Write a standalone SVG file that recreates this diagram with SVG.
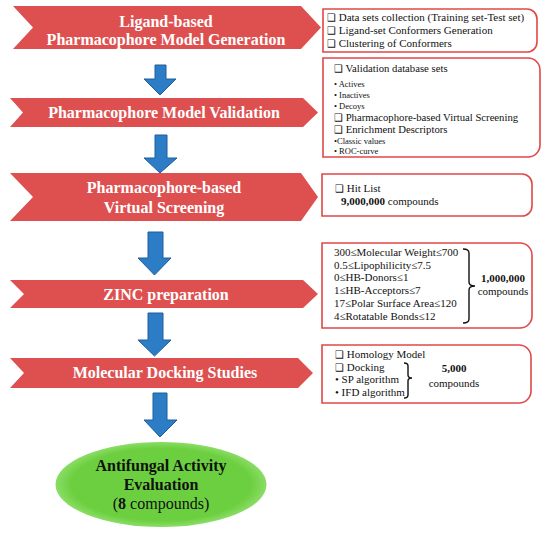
<svg xmlns="http://www.w3.org/2000/svg" width="550" height="534" viewBox="0 0 550 534">
<style>
.chev{fill:#DE5050;}
.ct{font-family:"Liberation Serif","Times New Roman",serif;font-weight:bold;font-size:16px;fill:#fff;text-anchor:middle;}
.box{fill:#fff;stroke:#E04848;stroke-width:1.6;}
.bt{font-family:"Liberation Serif","Times New Roman","DejaVu Sans",serif;font-size:11px;fill:#111;}
.b2{font-size:10.7px;}
.sm{font-size:8.5px;}
.cb{font-family:"DejaVu Sans",sans-serif;font-size:10px;}
.arr{fill:#2C7CC6;stroke:#1E5E9C;stroke-width:1;}
.br{fill:none;stroke:#111;stroke-width:1.4;}
.et{font-family:"Liberation Serif","Times New Roman",serif;font-size:16px;fill:#111;text-anchor:middle;}
</style>
<defs>
<radialGradient id="g" cx="50%" cy="50%" r="50%">
<stop offset="0" stop-color="#6CCF3F"/>
<stop offset="0.85" stop-color="#6CCF3F"/>
<stop offset="1" stop-color="#8ADD66"/>
</radialGradient>
</defs>

<g id="connectors">
<path class="arr" d="M155,65 H166 V79 H176 L160,95 L144,79 H155 Z"/>
<path class="arr" d="M155,135 H167 V158 H177 L160,173 L144,158 H155 Z"/>
<path class="arr" d="M148,232 H163 V258 H171 L154.5,275 L138,258 H148 Z"/>
<path class="arr" d="M148,313 H163 V340 H171 L154.5,356 L138,340 H148 Z"/>
<path class="arr" d="M153,393 H167 V420 H177 L160,437 L144,420 H153 Z"/>
</g>

<g id="step1">
<polygon class="chev" points="13,6 301,6 321,27.5 301,49 13,49 33,27.5"/>
<text class="ct" x="166" y="27">Ligand-based</text>
<text class="ct" x="166" y="45">Pharmacophore Model Generation</text>
</g>
<g id="step2">
<polygon class="chev" points="10,98 303,98 318,112.5 303,127 10,127 23,112.5"/>
<text class="ct" x="164" y="118">Pharmacophore Model Validation</text>
</g>
<g id="step3">
<polygon class="chev" points="10,173 301,173 318,197 301,221 10,221 33,197"/>
<text class="ct" x="164" y="193">Pharmacophore-based</text>
<text class="ct" x="164" y="213">Virtual Screening</text>
</g>
<g id="step4">
<polygon class="chev" points="10,280 303,280 318,294 303,308 10,308 24,294"/>
<text class="ct" x="166" y="300">ZINC preparation</text>
</g>
<g id="step5">
<polygon class="chev" points="10,358 298,358 313,373 298,388 10,388 24,373"/>
<text class="ct" x="165" y="378">Molecular Docking Studies</text>
</g>

<g id="result">
<ellipse cx="161" cy="484.5" rx="105.5" ry="42.5" fill="url(#g)"/>
<text class="et" x="161" y="471" font-weight="bold">Antifungal Activity</text>
<text class="et" x="161" y="490" font-weight="bold">Evaluation</text>
<text class="et" x="161" y="509">(<tspan font-weight="bold">8</tspan> compounds)</text>
</g>

<g id="box1">
<path class="box" d="M323,9 H527 A10,10 0 0 1 537,19 V42 A10,10 0 0 1 527,52 H323 Z"/>
<text class="bt" x="327" y="21"><tspan class="cb">❑</tspan> Data sets collection (Training set-Test set)</text>
<text class="bt" x="327" y="34"><tspan class="cb">❑</tspan> Ligand-set Conformers Generation</text>
<text class="bt" x="327" y="47"><tspan class="cb">❑</tspan> Clustering of Conformers</text>
</g>

<g id="box2">
<path class="box" d="M323,58 H528 A12,12 0 0 1 540,70 V145 A12,12 0 0 1 528,157 H323 Z"/>
<text class="bt b2" x="334" y="72"><tspan class="cb">❑</tspan> Validation database sets</text>
<text class="bt sm" x="334" y="87">• Actives</text>
<text class="bt sm" x="334" y="98">• Inactives</text>
<text class="bt sm" x="334" y="109">• Decoys</text>
<text class="bt b2" x="334" y="121"><tspan class="cb">❑</tspan> Pharmacophore-based Virtual Screening</text>
<text class="bt b2" x="334" y="133"><tspan class="cb">❑</tspan> Enrichment Descriptors</text>
<text class="bt sm" x="334" y="144">•Classic values</text>
<text class="bt sm" x="334" y="154">• ROC-curve</text>
</g>

<g id="box3">
<path class="box" d="M322,174 H522 A10,10 0 0 1 532,184 V206 A10,10 0 0 1 522,216 H322 Z"/>
<text class="bt" x="335" y="192"><tspan class="cb">❑</tspan> Hit List</text>
<text class="bt" x="341" y="205"><tspan font-weight="bold">9,000,000</tspan> compounds</text>
</g>

<g id="box4">
<path class="box" d="M322,243 H520 A12,12 0 0 1 532,255 V316 A12,12 0 0 1 520,328 H322 Z"/>
<text class="bt" x="334" y="256">300≤Molecular Weight≤700</text>
<text class="bt" x="334" y="269">0.5≤Lipophilicity≤7.5</text>
<text class="bt" x="334" y="281">0≤HB-Donors≤1</text>
<text class="bt" x="334" y="294">1≤HB-Acceptors≤7</text>
<text class="bt" x="334" y="307">17≤Polar Surface Area≤120</text>
<text class="bt" x="334" y="320">4≤Rotatable Bonds≤12</text>
<path class="br" d="M463,249 Q469,249 469,253 V282 Q469,286 475,286 Q469,286 469,290 V319 Q469,323 463,323"/>
<text class="bt" x="503" y="282" text-anchor="middle" font-weight="bold">1,000,000</text>
<text class="bt" x="503" y="295" text-anchor="middle">compounds</text>
</g>

<g id="box5">
<path class="box" d="M322,345 H519 A12,12 0 0 1 531,357 V391 A12,12 0 0 1 519,403 H322 Z"/>
<text class="bt" x="335" y="358"><tspan class="cb">❑</tspan> Homology Model</text>
<text class="bt" x="335" y="371"><tspan class="cb">❑</tspan> Docking</text>
<text class="bt" x="335" y="383">• SP algorithm</text>
<text class="bt" x="335" y="396">• IFD algorithm</text>
<path class="br" d="M404,363 Q408,363 408,366 V375 Q408,378 412,378 Q408,378 408,381 V395 Q408,398 404,398"/>
<text class="bt" x="454" y="372" text-anchor="middle" font-weight="bold">5,000</text>
<text class="bt" x="454" y="387" text-anchor="middle">compounds</text>
</g>
</svg>
